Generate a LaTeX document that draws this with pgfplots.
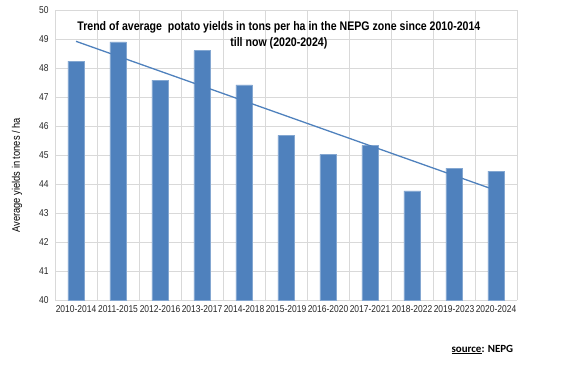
\documentclass[border=0pt]{standalone}
\usepackage{pgfplots}
\pgfplotsset{compat=1.18}
\usepackage{fontspec}
\setmainfont[FakeStretch=0.85]{Liberation Sans}
\newfontfamily\srcfont{Carlito}
\definecolor{barblue}{RGB}{79,129,189}
\definecolor{gridgray}{RGB}{217,217,217}
\begin{document}
\begin{tikzpicture}[x=1bp,y=1bp]
\path[use as bounding box] (0,0) rectangle (568,373);
\begin{axis}[
  at={(55bp,73bp)}, anchor=south west,
  scale only axis, width=462bp, height=290bp,
  ymin=40, ymax=50, ytick={40,41,...,50},
  xmin=-0.5, xmax=10.5,
  xtick={0,...,10},
  xticklabels={2010-2014,2011-2015,2012-2016,2013-2017,2014-2018,2015-2019,2016-2020,2017-2021,2018-2022,2019-2023,2020-2024},
  minor xtick={-0.5,0.5,...,10.5},
  xmajorgrids=false, xminorgrids=true, ymajorgrids=true,
  grid style={gridgray, line width=0.8bp},
  minor grid style={gridgray, line width=0.8bp},
  axis line style={draw=none},
  axis x line*=bottom, axis y line*=left,
  x axis line style={draw=gridgray, line width=0.8bp},
  major tick length=0pt, minor tick length=0pt,
  tick style={draw=none},
  ticklabel style={font=\fontsize{10}{12}\selectfont, text=black!85},
  /pgf/number format/assume math mode=true,
  xticklabel style={yshift=-2bp},
  yticklabel style={xshift=-3bp},
  ylabel={Average yields in tones / ha},
  ylabel style={font=\fontsize{11}{13}\selectfont, at={(axis description cs:-0.082,0.43)}, anchor=center},
  clip=false,
]
\addplot[ybar, bar width=16.5bp, fill=barblue, draw=barblue!70!white, line width=0.5bp, bar shift=0pt]
  coordinates {(0,48.24) (1,48.90) (2,47.58) (3,48.60) (4,47.42) (5,45.68) (6,45.03) (7,45.33) (8,43.76) (9,44.55) (10,44.44)};
\addplot[barblue, line width=1.3bp, mark=none] coordinates {(0,48.92) (10,43.78)};
\node[font=\bfseries\fontsize{12.5}{16}\selectfont, align=center, anchor=north] at (axis cs:4.83,49.72)
  {Trend of average\ \ potato yields in tons per ha in the NEPG zone since 2010-2014\\till now (2020-2024)};
\end{axis}
\node[anchor=base west, font=\srcfont\bfseries\fontsize{11}{13}\selectfont] at (448,21) {\underline{source}: NEPG};
\end{tikzpicture}
\end{document}
